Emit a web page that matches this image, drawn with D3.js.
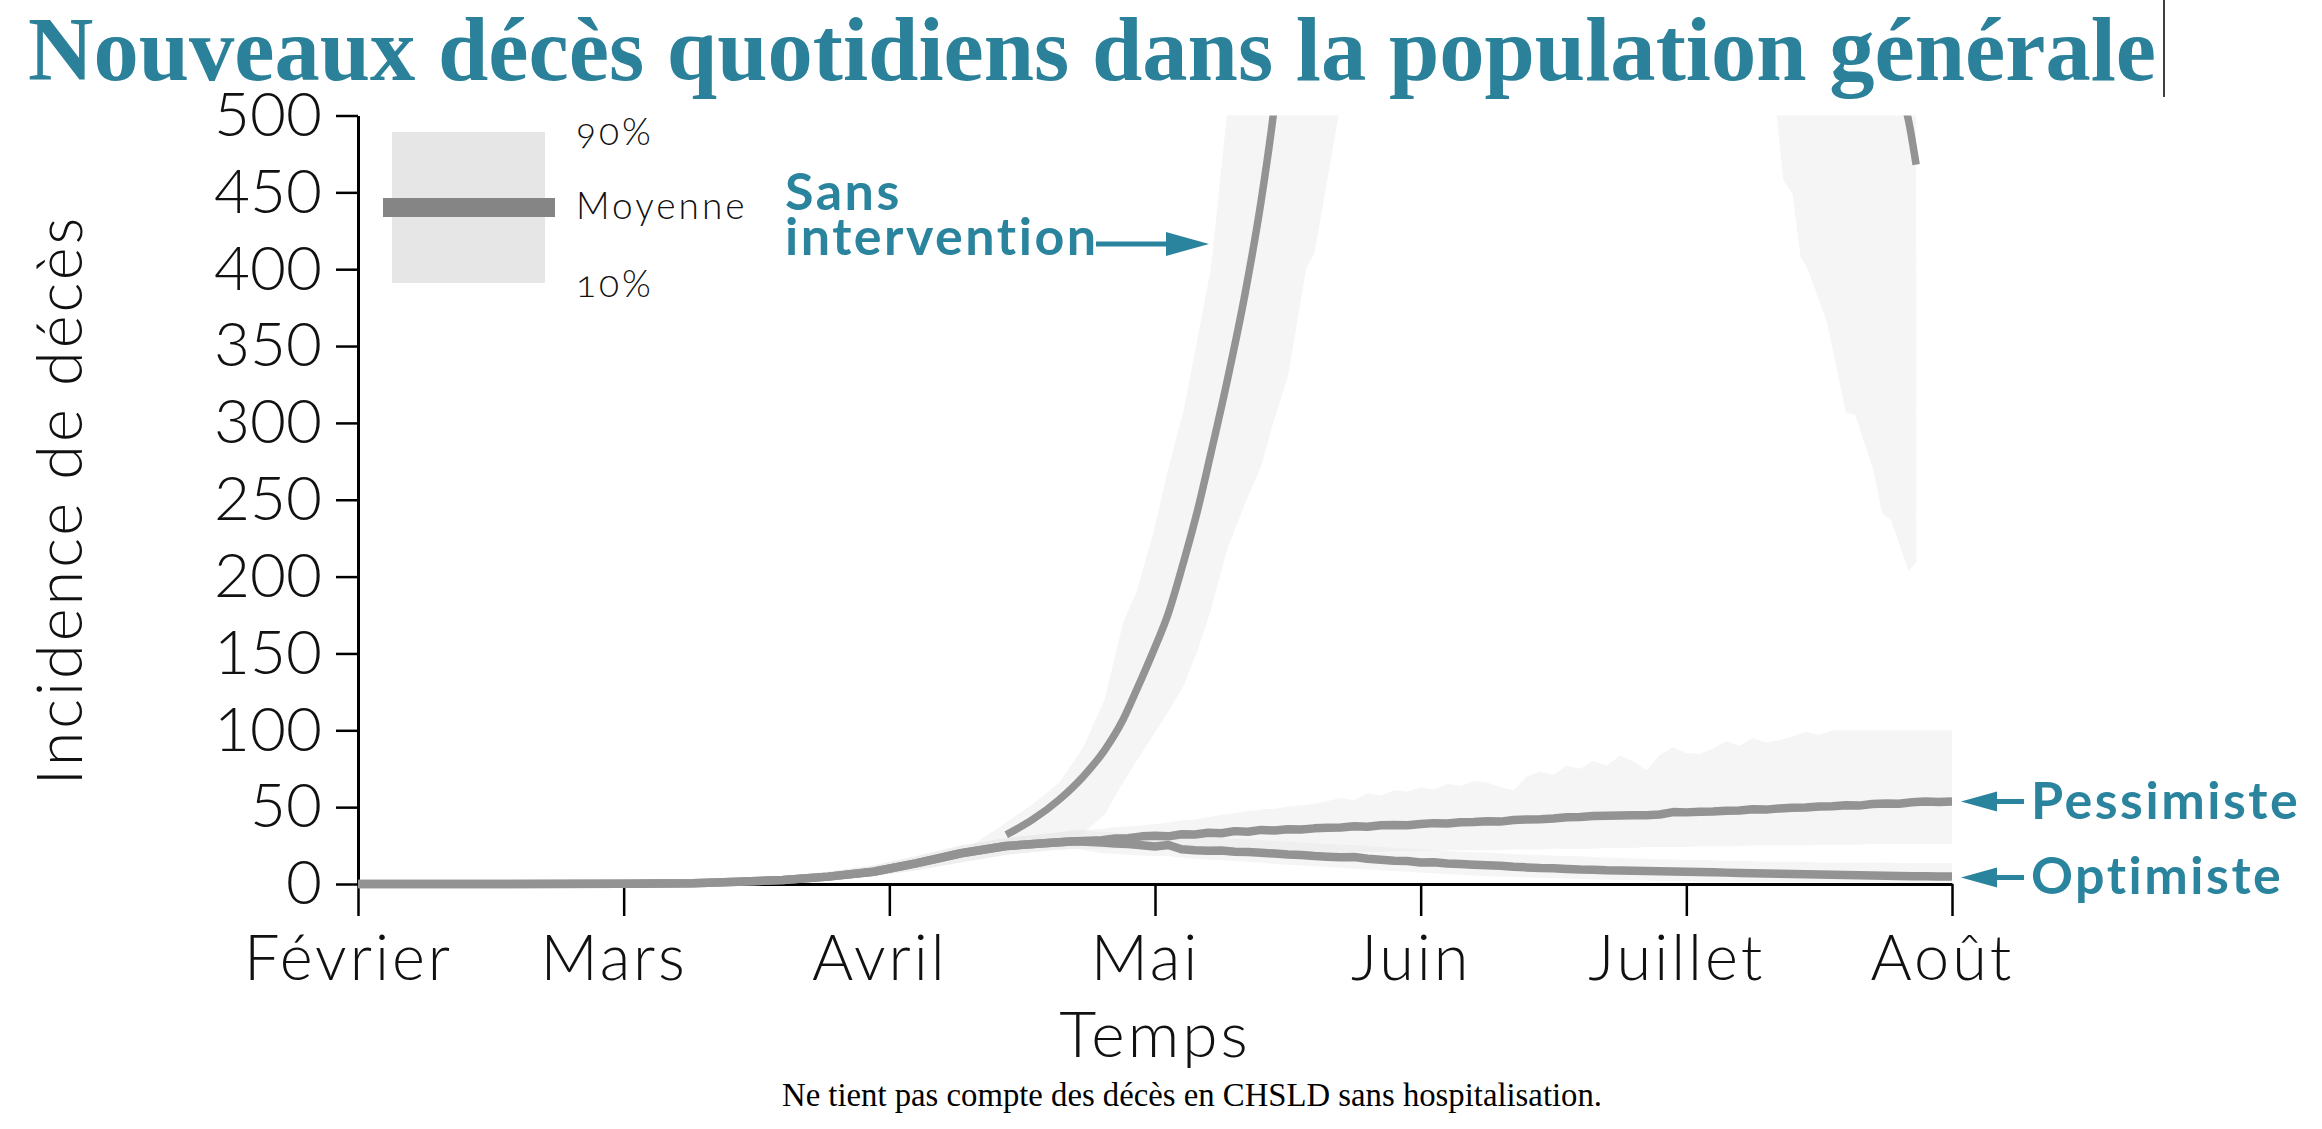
<!DOCTYPE html>
<html><head><meta charset="utf-8">
<script src="https://cdn.jsdelivr.net/npm/d3@7"></script>
<style>
html,body{margin:0;padding:0;background:#fff;}
svg{display:block;}
</style></head><body>
<svg id="chart" width="2322" height="1129"></svg>
<script>
// ---------- DATA ----------
const monthLabels = ["Février","Mars","Avril","Mai","Juin","Juillet","Août"];
const monthIdx = [0,1,2,3,4,5,6];
const yTicks = [0,50,100,150,200,250,300,350,400,450,500];

// common early period (months since 1 Feb)
const earlyT    = [0, 0.5, 1.0, 1.26, 1.43, 1.6, 1.77, 1.94, 2.1, 2.27, 2.44, 2.61, 2.7];
const earlyMean = [0, 0, 0.2, 0.5, 1.5, 2.6, 4.8, 8, 13.4, 20, 24.7, 26.9, 27.8];
const earlyP10  = [0, 0, 0, 0, 0.5, 1, 2.5, 5, 9, 14, 19, 22, 23];
const earlyP90  = [0, 0, 0.5, 1.5, 3, 5, 8, 12, 18, 25, 30, 33, 35];

// scenario period grid
const scenT = [2.80,2.85,2.90,2.95,3.00, 3.05,3.10,3.15,3.20,3.25, 3.30,3.35,3.40,3.45,3.50,
  3.55,3.60,3.65,3.70,3.75, 3.80,3.85,3.90,3.95,4.00, 4.05,4.10,4.15,4.20,4.25,
  4.30,4.35,4.40,4.45,4.50, 4.55,4.60,4.65,4.70,4.75, 4.80,4.85,4.90,4.95,5.00,
  5.05,5.10,5.15,5.20,5.25, 5.30,5.35,5.40,5.45,5.50, 5.55,5.60,5.65,5.70,5.75,
  5.80,5.85,5.90,5.95,6.00];

const pessMean = [28.5,29.6,29.8,31.0,31.4, 31.0,32.4,32.2,33.3,33.0, 34.4,34.0,35.2,34.8,35.6,
  35.4,36.2,36.6,36.8,37.6, 37.2,38.2,38.4,38.2,39.0, 39.6,39.4,40.2,40.4,40.8,
  40.6,41.6,42.0,42.2,42.6, 43.4,43.6,44.2,44.4,44.6, 44.8,44.8,45.2,46.8,46.6,
  47.0,47.2,47.6,47.8,48.6, 48.4,49.2,49.6,49.8,50.4, 50.6,51.2,51.0,52.0,52.4,
  52.2,53.2,53.6,53.4,53.6];
const pessP10 = [23,23,23,23,22.5, 22.5,22,22,22,21.5, 21.5,21.5,21,21,21,
  21,21,21,21,21, 21,21,21.5,21.5,21.5, 21.5,22,22,22,22,
  22,22.5,22.5,22.5,23, 23,23,23,23.5,23.5, 23.5,24,24,24,24,
  24.5,24.5,24.5,24.5,25, 25,25,25,25,25.5, 25.5,25.5,25.5,26,26,
  26,26,26,26,26];
const pessP90 = [36,37,37.5,38,39, 40,41.5,42,43.5,45, 46,47.5,48.5,49,50.5,
  51,52,54,56,54.5, 59,57.5,61,60,63, 61.5,65,64,67,66,
  63,61,70,73,71, 77,75,80,77,83.5, 80,74,84,89,85,
  84.5,88,93,90,95, 92,93.5,96,99,97, 100,100,100,100,100,
  100,100,100,100,100];

const optMean = [27.0,26.4,26.0,25.2,24.4, 25.4,22.6,22.0,21.6,21.8, 21.0,20.8,20.4,19.8,19.2,
  18.8,18.2,17.8,17.4,17.6, 16.4,15.8,15.2,15.0,14.0, 14.2,13.4,13.0,12.6,12.2,
  11.8,11.2,10.8,10.4,10.2, 9.8,9.4,9.2,8.9,8.8, 8.6,8.4,8.3,8.1,7.9,
  7.8,7.6,7.4,7.2,7.0, 6.8,6.7,6.5,6.3,6.2, 6.0,5.8,5.7,5.5,5.4,
  5.2,5.1,5.0,4.9,4.8];
const optP10 = [20,19.5,19,18.5,18, 18,17,16.5,16,15.5, 15,14.5,14,13,12.5,
  12,11.5,11,10.5,10, 9.5,9,8.5,8,7.5, 7,6.5,6,5.5,5,
  4.8,4.5,4.2,4,3.8, 3.5,3.2,3,2.8,2.6, 2.4,2.2,2,2,1.8,
  1.8,1.6,1.6,1.5,1.5, 1.4,1.4,1.3,1.3,1.2, 1.2,1.2,1.1,1.1,1,
  1,1,1,1,1];
const optP90 = [34,33.5,33,32.5,32, 32.5,31,30.5,30,30, 29.5,29,28.5,28,27.5,
  27,26.5,26,25.5,25.5, 24.5,24,23.5,23,22.5, 22,21.5,21,20.5,20.5,
  20,19.5,19,19,18.5, 18,18,17.5,17,17, 16.5,16.5,16,16,15.5,
  15.5,15.5,15,15,15, 14.5,14.5,14.5,14.5,14, 14,14,14,14,14,
  13.5,13.5,13.5,13.5,13.5];

// "Sans intervention" scenario (values above 500 fall outside the plotted range)
const sansT = [2.23,2.30,2.44,2.54,2.64,2.73,2.81,2.88,2.93,2.99,3.05,3.11,3.16,3.21,3.27,3.34,3.40,3.445,
  3.50,3.57,3.60,3.69,3.80,4.00,4.30,4.60,5.00,5.30,5.34,5.365,5.40,5.43,5.455,5.53,5.60,5.636,5.705,5.737,5.77,5.836,5.865];
const sansMean = [null,null,32,42,55,70,87,107,126,150,176,211,243,280,326,385,445,500,
  590,720,770,900,1100,1400,1700,1800,1500,1000,950,900,860,820,800,720,650,620,570,550,530,497,468];
const sansP10 = [16,19,24,26,28,33,45,66,80,96,112,130,152,178,217,248,272,300,
  330,401,410,499,600,800,1000,1050,900,540,500,458,449,408,401,365,307,305,269,241,237,204,209];
const sansP90 = [18,24,40,52,66,89,120,170,190,226,270,310,355,400,499,600,700,800,
  900,1050,1100,1300,1500,1900,2300,2500,2200,1700,1650,1600,1550,1500,1450,1350,1250,1200,1150,1100,1050,1000,950];

// ---------- CHART ----------
const svg = d3.select("#chart");
const x = d3.scaleLinear().domain([0, 6]).range([358, 1952]);
const y = d3.scaleLinear().domain([0, 500]).range([884, 115.5]);

const teal = "#2b849d";
const lineGray = "#939393";
const sans = "Lato, 'Open Sans', sans-serif";

const toPts = (T, M, L, U) => T.map((t, i) => ({t, m: M[i], lo: L[i], hi: U[i]}));
const early = toPts(earlyT, earlyMean, earlyP10, earlyP90);
const pess = early.concat(toPts(scenT, pessMean, pessP10, pessP90));
const opt = early.concat(toPts(scenT, optMean, optP10, optP90));
const sansPts = toPts(sansT, sansMean, sansP10, sansP90);

svg.append("defs").append("clipPath").attr("id", "plotclip")
  .append("rect").attr("x", x(0) - 2).attr("y", y(500))
  .attr("width", x(6) - x(0) + 14).attr("height", y(0) - y(500) + 20);

const area = d3.area().x(d => x(d.t)).y0(d => y(d.lo)).y1(d => y(d.hi));
const line = d3.line().defined(d => d.m != null).x(d => x(d.t)).y(d => y(d.m));
const smoothLine = d3.line().defined(d => d.m != null).x(d => x(d.t)).y(d => y(d.m)).curve(d3.curveMonotoneX);

const bands = svg.append("g").attr("clip-path", "url(#plotclip)");
[sansPts, pess, opt].forEach(s => {
  bands.append("path").attr("d", area(s)).attr("fill", "#e6e6e6").attr("fill-opacity", 0.38);
});

// axes
const yAxis = svg.append("g").attr("transform", `translate(${x(0)},0)`)
  .call(d3.axisLeft(y).tickValues(yTicks).tickSize(22).tickSizeOuter(0).tickPadding(14));
const xAxis = svg.append("g").attr("transform", `translate(0,${y(0)})`)
  .call(d3.axisBottom(x).tickValues(monthIdx).tickFormat((d, i) => monthLabels[i]).tickSize(32).tickSizeOuter(0));
[yAxis, xAxis].forEach(a => {
  a.select(".domain").attr("stroke", "#000").attr("stroke-width", 3);
  a.selectAll(".tick line").attr("stroke", "#000").attr("stroke-width", 2.5);
  a.selectAll("text").attr("font-family", sans).attr("font-weight", 300).attr("fill", "#111");
});
yAxis.selectAll("text").attr("font-size", 62);
xAxis.selectAll("text").attr("font-size", 63).attr("y", 96).attr("dy", null)
  .attr("dx", -10).attr("letter-spacing", 3);

// mean lines
const lines = svg.append("g").attr("clip-path", "url(#plotclip)");
lines.append("path").attr("d", smoothLine(sansPts)).attr("fill", "none")
  .attr("stroke", lineGray).attr("stroke-width", 7.5).attr("stroke-linejoin", "round");
[pess, opt].forEach(s => {
  lines.append("path").attr("d", line(s)).attr("fill", "none")
    .attr("stroke", lineGray).attr("stroke-width", 8.5).attr("stroke-linejoin", "round");
});

// axis titles
svg.append("text").attr("x", 1155).attr("y", 1057).attr("text-anchor", "middle")
  .attr("font-family", sans).attr("font-weight", 300).attr("font-size", 64).attr("letter-spacing", 3)
  .attr("fill", "#111").text("Temps");
svg.append("text").attr("transform", "translate(82,500) rotate(-90)").attr("text-anchor", "middle")
  .attr("font-family", sans).attr("font-weight", 300).attr("font-size", 63).attr("letter-spacing", 3)
  .attr("fill", "#111").text("Incidence de décès");

// title
svg.append("text").attr("x", 28).attr("y", 80)
  .attr("font-family", "'Liberation Serif', 'DejaVu Serif', serif").attr("font-weight", 700)
  .attr("font-size", 90).attr("fill", "#2a8199")
  .attr("textLength", 2128).attr("lengthAdjust", "spacingAndGlyphs")
  .text("Nouveaux décès quotidiens dans la population générale");
svg.append("line").attr("x1", 2164).attr("x2", 2164).attr("y1", 0).attr("y2", 97)
  .attr("stroke", "#000").attr("stroke-width", 1.5);

// footnote
svg.append("text").attr("x", 1192).attr("y", 1106).attr("text-anchor", "middle")
  .attr("font-family", "'Liberation Serif', serif").attr("font-size", 34).attr("fill", "#000")
  .attr("textLength", 820).attr("lengthAdjust", "spacingAndGlyphs")
  .text("Ne tient pas compte des décès en CHSLD sans hospitalisation.");

// legend
const lg = svg.append("g");
lg.append("rect").attr("x", 392).attr("y", 132).attr("width", 153).attr("height", 151).attr("fill", "#e6e6e6");
lg.append("rect").attr("x", 383).attr("y", 198).attr("width", 172).attr("height", 19).attr("fill", "#858585");
[["90%", 145], ["Moyenne", 219], ["10%", 297]].forEach(([t, yy]) => {
  lg.append("text").attr("x", 576).attr("y", yy).attr("font-family", sans).attr("font-weight", 300)
    .attr("font-size", 37).attr("letter-spacing", 3).attr("fill", "#111")
    .style("font-variant-numeric", "oldstyle-nums").text(t);
});

// annotations
const ann = svg.append("g").attr("fill", teal).attr("font-family", sans).attr("font-weight", 700)
  .attr("font-size", 52).attr("letter-spacing", 2.5);
ann.append("text").attr("x", 785).attr("y", 210).text("Sans");
ann.append("text").attr("x", 785).attr("y", 255).text("intervention");
svg.append("line").attr("x1", 1096).attr("x2", 1172).attr("y1", 244).attr("y2", 244)
  .attr("stroke", teal).attr("stroke-width", 5);
svg.append("path").attr("d", "M1166,232 L1209,244 L1166,256 Z").attr("fill", teal);

function leftArrow(yy) {
  const tip = x(6) + 9;
  svg.append("line").attr("x1", tip + 30).attr("x2", tip + 63).attr("y1", yy).attr("y2", yy)
    .attr("stroke", teal).attr("stroke-width", 5);
  svg.append("path").attr("d", `M${tip},${yy} L${tip + 36},${yy - 10} L${tip + 36},${yy + 10} Z`).attr("fill", teal);
}
const yPess = y(pessMean[pessMean.length - 1]);
const yOpt = y(optMean[optMean.length - 1]) + 1;
leftArrow(yPess);
leftArrow(yOpt);
ann.append("text").attr("x", 2031).attr("y", yPess + 17).text("Pessimiste");
ann.append("text").attr("x", 2031).attr("y", yOpt + 16).text("Optimiste");
</script></body></html>
